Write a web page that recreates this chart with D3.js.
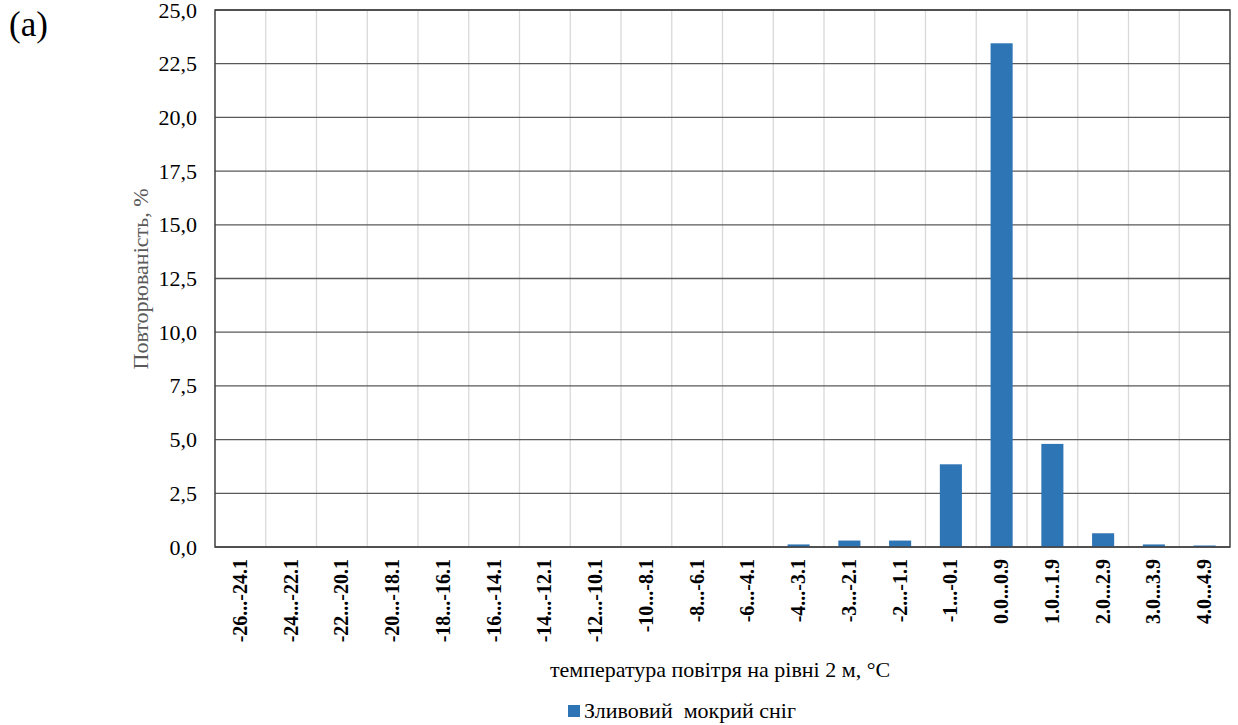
<!DOCTYPE html>
<html>
<head>
<meta charset="utf-8">
<script src="https://cdn.jsdelivr.net/npm/d3@7/dist/d3.min.js"></script>
</head>
<body style="margin:0;padding:0;background:#fff">
<svg id="chart" width="1238" height="725" font-family="Liberation Serif" style="display:block"></svg>
<script>
// Temperature ranges at 2 m (°C)
const categories = [
  "-26...-24.1", "-24...-22.1", "-22...-20.1", "-20...-18.1", "-18...-16.1",
  "-16...-14.1", "-14...-12.1", "-12...-10.1", "-10...-8.1", "-8...-6.1",
  "-6...-4.1", "-4...-3.1", "-3...-2.1", "-2...-1.1", "-1...-0.1",
  "0.0...0.9", "1.0...1.9", "2.0...2.9", "3.0...3.9", "4.0...4.9"
];
// Frequency of showery sleet, %
const values = [
  0, 0, 0, 0, 0,
  0, 0, 0, 0, 0,
  0, 0.12, 0.3, 0.3, 3.85,
  23.45, 4.8, 0.64, 0.12, 0.07
];
const yTicks = [0, 2.5, 5, 7.5, 10, 12.5, 15, 17.5, 20, 22.5, 25];
const seriesName = "Зливовий  мокрий сніг";

const FONT = "Liberation Serif";
const svg = d3.select("#chart");
const m = { left: 215, right: 1230, top: 10, bottom: 547 };

const x = d3.scaleBand().domain(categories).range([m.left, m.right]).paddingInner(0.565).paddingOuter(0.2825);
const xGrid = d3.scaleBand().domain(categories).range([m.left, m.right]);
const y = d3.scaleLinear().domain([0, 25]).range([m.bottom, m.top]);

// vertical category separators
svg.append("g").selectAll("line")
  .data(categories.slice(1))
  .join("line")
  .attr("x1", d => xGrid(d)).attr("x2", d => xGrid(d))
  .attr("y1", m.top).attr("y2", m.bottom)
  .attr("stroke", "#d9d9d9").attr("stroke-width", 1.3);

// horizontal gridlines
svg.append("g").selectAll("line")
  .data(yTicks)
  .join("line")
  .attr("x1", m.left).attr("x2", m.right)
  .attr("y1", d => y(d)).attr("y2", d => y(d))
  .attr("stroke", "#595959").attr("stroke-width", 1.3);

// bars
svg.append("g").selectAll("rect")
  .data(values.map((v, i) => ({ c: categories[i], v })))
  .join("rect")
  .attr("x", d => x(d.c))
  .attr("width", x.bandwidth())
  .attr("y", d => y(d.v))
  .attr("height", d => y(0) - y(d.v))
  .attr("fill", "#2e75b6");

// plot frame
svg.append("rect")
  .attr("x", m.left).attr("y", m.top)
  .attr("width", m.right - m.left).attr("height", m.bottom - m.top)
  .attr("fill", "none").attr("stroke", "#404040").attr("stroke-width", 1.5);

// y axis
const yAxis = d3.axisLeft(y).tickValues(yTicks).tickSize(0).tickPadding(18)
  .tickFormat(d => d3.format(".1f")(d).replace(".", ","));
svg.append("g").attr("transform", `translate(${m.left},0)`).call(yAxis)
  .attr("font-family", FONT).attr("font-size", 22)
  .call(g => g.select(".domain").remove())
  .selectAll("text")
  .attr("font-family", FONT)
  .attr("font-size", 22).attr("fill", "#000");

// x axis (rotated bold labels)
const xAxis = d3.axisBottom(x).tickSize(0).tickPadding(0);
svg.append("g").attr("transform", `translate(0,${m.bottom})`).call(xAxis)
  .attr("font-family", FONT).attr("font-size", 20)
  .call(g => g.select(".domain").remove())
  .selectAll("text")
  .attr("font-family", FONT)
  .attr("font-size", 20).attr("font-weight", "bold").attr("fill", "#000")
  .attr("text-anchor", "end")
  .attr("dy", "0.33em")
  .attr("transform", "translate(0,12) rotate(-90)")
  .attr("y", 0).attr("x", 0);

// y axis title
svg.append("text")
  .attr("transform", "translate(148,279) rotate(-90)")
  .attr("text-anchor", "middle")
  .attr("font-family", FONT)
  .attr("font-size", 22).attr("fill", "#595959")
  .text("Повторюваність, %");

// x axis title
svg.append("text")
  .attr("x", 720).attr("y", 677)
  .attr("text-anchor", "middle")
  .attr("font-family", FONT)
  .attr("font-size", 22).attr("fill", "#000")
  .text("температура повітря на рівні 2 м, °С");

// legend
const lg = svg.append("g").attr("transform", "translate(568,705)");
lg.append("rect").attr("x", 0).attr("y", 0).attr("width", 12).attr("height", 12).attr("fill", "#2e75b6");
lg.append("text").attr("x", 16).attr("y", 13)
  .attr("font-family", FONT).attr("font-size", 22).attr("fill", "#000")
  .style("white-space", "pre").text(seriesName);

// panel label
svg.append("text").attr("x", 9).attr("y", 36)
  .attr("font-family", FONT).attr("font-size", 35).attr("fill", "#000").text("(a)");
</script>
</body>
</html>
